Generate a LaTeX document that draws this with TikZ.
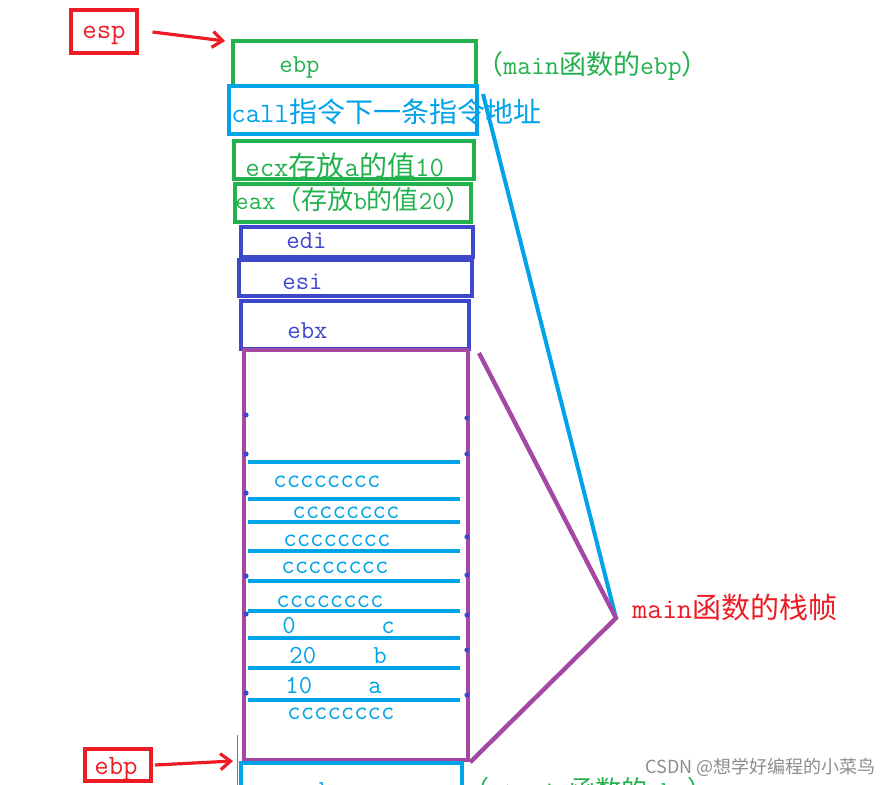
\documentclass[tikz,border=0pt]{standalone}
\usepackage{fontspec}
\newfontfamily\cjk{Noto Sans CJK SC}
\usetikzlibrary{arrows.meta}
\definecolor{pgreen}{HTML}{22B14C}
\definecolor{pcyan}{HTML}{00A2E8}
\definecolor{pred}{HTML}{ED1C24}
\definecolor{pblue}{HTML}{3F48CC}
\definecolor{ppurple}{HTML}{A349A4}

\begin{document}
\begin{tikzpicture}[
    x=0.5pt, y=-0.5pt,
    box/.style={draw, line width=2pt, inner sep=0pt},
    lbl/.style={anchor=base west, inner sep=0pt, font=\ttfamily\fontsize{13}{15}\selectfont},
    bigl/.style={anchor=base west, inner sep=0pt, font=\ttfamily\fontsize{14.5}{17}\selectfont},
    cline/.style={pcyan, line width=2pt},
    pline/.style={ppurple, line width=2.2pt},
    redarrow/.style={pred, line width=1.6pt, -{Straight Barb[length=5pt, width=8pt]}},
]
  \useasboundingbox (0,0) rectangle (887,785);
  \clip (0,0) rectangle (887,785);

  % register pointers
  \node[box, pred, minimum width=33pt, minimum height=21.5pt] (esp) at (103.5,32) {};
  \node[lbl, pred, font=\ttfamily\fontsize{14}{16}\selectfont] (esptxt) at (82,39) {esp};
  \node[box, pred, minimum width=33pt, minimum height=16pt] (ebpPtr) at (118,765) {};
  \node[lbl, pred, font=\ttfamily\fontsize{14}{16}\selectfont] (ebptxt) at (94,774) {ebp};

  % saved registers (top of the stack)
  \node[box, pgreen, minimum width=121.5pt, minimum height=22.5pt] (ebpTop) at (354.5,63.5) {};
  \node[lbl, pgreen] (ebpTopTxt) at (279,73) {ebp};
  \node[lbl, pgreen, font=\ttfamily\fontsize{13.5}{15}\selectfont] (ebpNote) at (476,75) {{\cjk （}main{\cjk 函数的}ebp{\cjk ）}};
  \node[box, pcyan, minimum width=124pt, minimum height=24pt] (call) at (353,110) {};
  \node[lbl, pcyan, font=\ttfamily\fontsize{14}{16}\selectfont] (callTxt) at (231,123) {call{\cjk 指令下一条指令地址}};
  \node[box, pgreen, minimum width=120pt, minimum height=19pt] (ecx) at (354,160) {};
  \node[lbl, pgreen, font=\ttfamily\fontsize{14}{16}\selectfont] (ecxTxt) at (245,177) {ecx{\cjk 存放}a{\cjk 的值}10};
  \node[box, pgreen, minimum width=118pt, minimum height=19pt] (eax) at (352.5,203) {};
  \node[lbl, pgreen] (eaxTxt) at (235,210) {eax{\cjk （存放}b{\cjk 的值}20{\cjk ）}};
  \node[box, pblue, minimum width=116pt, minimum height=15pt] (edi) at (357,242.5) {};
  \node[lbl, pblue] (ediTxt) at (286,249) {edi};
  \node[box, pblue, minimum width=116.5pt, minimum height=18pt] (esi) at (355.5,278.5) {};
  \node[lbl, pblue] (esiTxt) at (282,290) {esi};
  \node[box, pblue, minimum width=114pt, minimum height=24pt] (ebx) at (355,325) {};
  \node[lbl, pblue] (ebxTxt) at (287,339) {ebx};

  % locals area
  \node[draw, ppurple, line width=2.2pt, inner sep=0pt, minimum width=112pt, minimum height=205pt] (frame) at (356,555) {};
  \foreach \y in {462,499,522,551,581,611,638,668,700}
    \draw[cline] (248,\y) -- (460,\y);
  \foreach \y in {415,454,493,576,614,693}
    \fill[pblue] (246,\y) circle (1.3pt);
  \foreach \y in {418,454,537,575,615,650,695}
    \fill[pblue] (467,\y) circle (1.3pt);
  \node[lbl, pcyan] (cc1) at (273,487) {cccccccc};
  \node[lbl, pcyan] (cc2) at (292,518) {cccccccc};
  \node[lbl, pcyan] (cc3) at (283,546) {cccccccc};
  \node[lbl, pcyan] (cc4) at (281,573) {cccccccc};
  \node[lbl, pcyan] (cc5) at (276,607) {cccccccc};
  \node[lbl, pcyan] (valC) at (282,633) {0};
  \node[lbl, pcyan] (varC) at (381,633) {c};
  \node[lbl, pcyan] (valB) at (289,663) {20};
  \node[lbl, pcyan] (varB) at (373,663) {b};
  \node[lbl, pcyan] (valA) at (285,693) {10};
  \node[lbl, pcyan] (varA) at (368,693) {a};
  \node[lbl, pcyan] (cc6) at (287,719) {cccccccc};

  % caller's frame (cut off by the picture edge)
  \node[box, pcyan, minimum width=110.5pt, minimum height=20pt] (callerBox) at (351.5,783) {};
  \node[lbl, pcyan] (callerTxt) at (305,798) {ebp};
  \node[lbl, pgreen] (callerNote) at (463,799) {{\cjk （}\_tmain{\cjk 函数的}ebp{\cjk ）}};
  \draw[pgreen, line width=0.5pt] (237,735) -- (237,785);

  % frame brace
  \coordinate (apex) at (616,618);
  \node[bigl, pred] (title) at (632,618) {main{\cjk 函数的栈帧}};
  \draw[cline] ([xshift=2pt, yshift=-5pt]call.north east) -- (apex);
  \draw[pline] ([xshift=4pt, yshift=-1pt]ebx.south east) -- (apex) -- (frame.south east);

  % pointer arrows
  \draw[redarrow] ([xshift=7pt]esp.east) -- ([xshift=-3pt, yshift=-1pt]ebpTop.north west);
  \draw[redarrow] ([xshift=1pt]ebpPtr.east) -- ([xshift=-3pt]callerBox.north west);

  % watermark
  \node[anchor=base west, inner sep=0pt, text=black!45, font=\cjk\fontsize{9}{11}\selectfont] (mark) at (645,773) {CSDN @想学好编程的小菜鸟};
\end{tikzpicture}
\end{document}
